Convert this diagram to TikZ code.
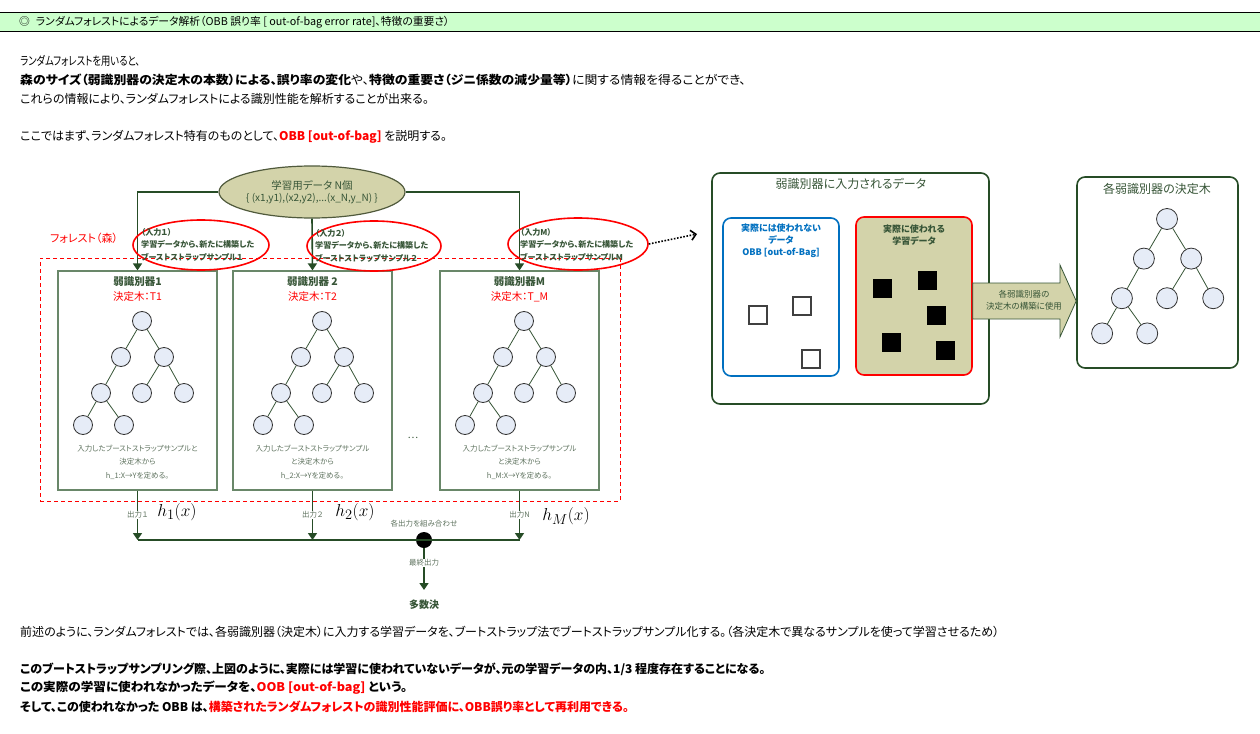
\documentclass[tikz,border=0pt]{standalone}
\usepackage[no-math]{fontspec}
\usepackage{graphicx}
\setmainfont{Noto Sans CJK JP}[RawFeature=+palt]
\usetikzlibrary{arrows.meta,shapes.geometric}
\definecolor{hdr}{RGB}{204,255,204}
\definecolor{dg}{RGB}{38,76,38}
\definecolor{bxb}{RGB}{105,135,105}
\definecolor{tg}{RGB}{55,85,55}
\definecolor{cap}{RGB}{95,115,95}
\definecolor{olive}{RGB}{211,211,170}
\definecolor{oliveb}{RGB}{80,90,60}
\definecolor{nodef}{RGB}{230,236,247}
\definecolor{rd}{RGB}{255,0,0}
\definecolor{bl}{RGB}{0,112,192}
\newcommand\fsz[2]{\fontsize{#1}{#2}\selectfont}
\newcommand\mytree[5]{%
  \begin{scope}[shift={(#2,#3)},scale=#4]
    \node[tn,minimum size=#5pt] (#1a) at (0,0) {};
    \node[tn,minimum size=#5pt] (#1b) at (-21,36) {};
    \node[tn,minimum size=#5pt] (#1c) at (22,36) {};
    \node[tn,minimum size=#5pt] (#1d) at (-41,72) {};
    \node[tn,minimum size=#5pt] (#1e) at (0,72) {};
    \node[tn,minimum size=#5pt] (#1f) at (42,72) {};
    \node[tn,minimum size=#5pt] (#1g) at (-59,104) {};
    \node[tn,minimum size=#5pt] (#1h) at (-18,104) {};
  \end{scope}
  \draw[te] (#1a) -- (#1b); \draw[te] (#1a) -- (#1c);
  \draw[te] (#1b) -- (#1d); \draw[te] (#1c) -- (#1e);
  \draw[te] (#1c) -- (#1f); \draw[te] (#1d) -- (#1g);
  \draw[te] (#1d) -- (#1h);
}
\begin{document}
\begin{tikzpicture}[x=1pt,y=-1pt,
  txt/.style={anchor=west,inner sep=0pt,font=\fsz{12}{14}},
  tn/.style={circle,draw=black!80,fill=nodef,inner sep=0pt,line width=0.8pt},
  te/.style={draw=tg,line width=0.8pt},
  flow/.style={draw=dg,line width=1.6pt},
  arr/.style={flow,-{Triangle[width=9pt,length=7pt]}},
  wbox/.style={draw=bxb,fill=white,line width=1.2pt,minimum width=159pt,minimum height=219pt,inner sep=0pt},
  redell/.style={ellipse,draw=rd,line width=1.6pt,inner sep=0pt},
  etxt/.style={anchor=west,align=left,inner sep=0pt,text=tg,font=\bfseries\fsz{8.1}{12.5}},
  btitle/.style={inner sep=0pt,text=tg,font=\bfseries\fsz{10.5}{12}},
  bsub/.style={inner sep=0pt,text=rd,font=\fsz{10.5}{12}},
  bcap/.style={inner sep=0pt,align=center,text=cap,font=\fsz{7.5}{13.5}},
  lbl/.style={inner sep=1pt,fill=white,text=cap,font=\fsz{7.5}{9}},
  hlab/.style={inner sep=0pt,font=\fsz{19}{20}},
  rbox/.style={rounded corners=8pt,line width=1.6pt,inner sep=0pt},
  wsq/.style={draw=black!75,fill=white,line width=1.1pt,minimum size=18pt,inner sep=0pt},
  bsq/.style={fill=black,minimum size=19pt,inner sep=0pt}]
\useasboundingbox (0,0) rectangle (1260,733);
% header
\fill[hdr] (0,13) rectangle (1260,32);
\draw[black,line width=1pt] (0,13) -- (1260,13);
\draw[black,line width=1pt] (0,32) -- (1260,32);
\node[txt,font=\fsz{10.8}{12}] (title) at (19,22.5) {◎\hspace{6pt}ランダムフォレストによるデータ解析（OBB 誤り率 [ out-of-bag error rate]、特徴の重要さ）};
% paragraph
\node[txt] (p1) at (20,61) {\scalebox{0.78}[1]{ランダムフォレストを用いると、}};
\node[txt] (p2) at (20,80) {\scalebox{1.07}[1]{\textbf{森のサイズ（弱識別器の決定木の本数）による、誤り率の変化}や、\textbf{特徴の重要さ（ジニ係数の減少量等）}に関する情報を得ることができ、}};
\node[txt] (p3) at (20,99) {これらの情報により、ランダムフォレストによる識別性能を解析することが出来る。};
\node[txt] (p4) at (20,137) {ここではまず、ランダムフォレスト特有のものとして、\textcolor{rd}{\textbf{OBB [out-of-bag]}} を説明する。};
% forest frame
\node[draw=rd,dash pattern=on 4pt off 3pt,line width=0.9pt,minimum width=580pt,minimum height=243pt,inner sep=0pt] (forest) at (330,379.5) {};
\node[anchor=west,inner sep=0pt,text=rd,font=\fsz{11}{12}] (forlab) at (50,238) {フォレスト（森）};
% data ellipse
\node[ellipse,draw=oliveb,fill=olive,line width=1.2pt,minimum width=186pt,minimum height=52pt,inner sep=0pt,align=center,text=tg] (data) at (312,192) {\fsz{10.5}{15}学習用データ N個\\\fsz{10}{10}\{ (x1,y1),(x2,y2),...(x\_N,y\_N) \}};
% boxes
\node[wbox] (box1) at (137.5,380.5) {};
\node[wbox] (box2) at (312.5,380.5) {};
\node[wbox] (boxM) at (519.5,380.5) {};
% connectors from data
\draw[arr] (data.west) -| (box1.north);
\draw[arr] (data.south) -- (box2.north);
\draw[arr] (data.east) -| (boxM.north);
% red ellipses
\node[redell,minimum width=136pt,minimum height=50pt] (e1) at (201,245) {};
\node[redell,minimum width=134pt,minimum height=50pt] (e2) at (374,246) {};
\node[redell,minimum width=140pt,minimum height=52pt] (eM) at (578,244) {};
\node[etxt] (t1) at (141,244.5) {（入力１）\\学習データから、新たに構築した\\ブーストストラップサンプル１};
\node[etxt] (t2) at (315,245.5) {（入力２）\\学習データから、新たに構築した\\ブーストストラップサンプル２};
\node[etxt] (tM) at (520,244.5) {（入力M）\\学習データから、新たに構築した\\ブーストストラップサンプルM};
\coordinate (dotend) at (697,234);
\draw[black,line width=1.6pt,dash pattern=on 1.6pt off 1.6pt,-{Straight Barb[length=5pt,width=10pt]}] (eM.east) -- (dotend);
% box contents
\node[btitle] (b1t) at (137.5,282) {弱識別器1};
\node[bsub] (b1s) at (137.5,297) {決定木：T1};
\node[btitle] (b2t) at (312.5,282) {弱識別器 2};
\node[bsub] (b2s) at (312.5,297) {決定木：T2};
\node[btitle] (bMt) at (519.5,282) {弱識別器M};
\node[bsub] (bMs) at (519.5,297) {決定木：T\_M};
\mytree{s}{142}{321}{1}{19}
\mytree{u}{322}{321}{1}{19}
\mytree{v}{524}{321}{1}{19}
\node[bcap] (c1) at (137.5,462) {入力したブーストストラップサンプルと\\決定木から\\h\_1:X→Yを定める。};
\node[bcap] (c2) at (312.5,462) {入力したブーストストラップサンプル\\と決定木から\\h\_2:X→Yを定める。};
\node[bcap] (cM) at (519.5,462) {入力したブーストストラップサンプル\\と決定木から\\h\_M:X→Yを定める。};
\node[inner sep=0pt,text=tg,font=\fsz{10}{12}] (dots) at (413,438) {…};
% outputs
\coordinate (o1) at (137.5,540);
\coordinate (o2) at (312.5,540);
\coordinate (oM) at (519.5,540);
\node[circle,fill=black,minimum size=16pt,inner sep=0pt] (dot) at (424,540) {};
\coordinate (fin) at (424,590);
\draw[flow] (o1) -- (oM);
\draw[arr] (box1.south) -- (o1);
\draw[arr] (box2.south) -- (o2);
\draw[arr] (boxM.south) -- (oM);
\draw[arr] (dot) -- (fin);
\node[lbl] (l1) at (137.5,515) {出力１};
\node[lbl] (l2) at (312.5,515) {出力２};
\node[lbl] (lM) at (519.5,515) {出力N};
\node[lbl] (lf) at (424,563) {最終出力};
\node[inner sep=0pt,text=cap,font=\fsz{7.5}{9}] (comb) at (424,524) {各出力を組み合わせ};
\node[inner sep=0pt,text=tg,font=\bfseries\fsz{10}{12}] (vote) at (424,605) {多数決};
\node[hlab] (h1) at (177,512) {$h_1(x)$};
\node[hlab] (h2) at (355,512) {$h_2(x)$};
\node[hlab] (hM) at (566,516) {$h_M(x)$};
% right part
\node[rbox,draw=dg,fill=white,minimum width=277pt,minimum height=231pt] (inbox) at (850.5,288.5) {};
\node[inner sep=0pt,text=tg,font=\fsz{12}{14}] (inttl) at (851,184) {弱識別器に入力されるデータ};
\node[rbox,draw=bl,fill=white,minimum width=116pt,minimum height=158pt] (oob) at (781,297) {};
\node[inner sep=0pt,align=center,text=bl,font=\bfseries\fsz{9}{12}] (oobt) at (781,241) {実際には使われない\\データ\\OBB [out-of-Bag]};
\node[wsq] (w1) at (758,315) {};
\node[wsq] (w2) at (802,306) {};
\node[wsq] (w3) at (811,359) {};
\node[rbox,draw=rd,fill=olive,minimum width=116pt,minimum height=158pt] (used) at (914,296) {};
\node[inner sep=0pt,align=center,text=tg,font=\bfseries\fsz{9}{12}] (usedt) at (914,235) {実際に使われる\\学習データ};
\node[bsq] (k1) at (882.5,288.5) {};
\node[bsq] (k2) at (927.5,280.5) {};
\node[bsq] (k3) at (936,315) {};
\node[bsq] (k4) at (891,342) {};
\node[bsq] (k5) at (945,350) {};
\node[rbox,draw=dg,fill=white,minimum width=161pt,minimum height=191pt] (tbox) at (1157.5,272.5) {};
\node[inner sep=0pt,text=tg,font=\fsz{12}{14}] (tttl) at (1157,189) {各弱識別器の決定木};
\mytree{w}{1167}{219}{1.1}{21}
\draw[draw=tg,fill=olive,line width=0.8pt] (used.east |- 0,283) -- (1060,283) -- (1060,265) -- (tbox.west |- 0,301) -- (1060,337) -- (1060,319) -- (used.east |- 0,319) -- cycle;
\node[inner sep=0pt,align=center,text=tg,font=\fsz{8.5}{12}] (arrt) at (1024,300) {各弱識別器の\\決定木の構築に使用};
% bottom text
\node[txt] (q1) at (20,632) {前述のように、ランダムフォレストでは、各弱識別器（決定木）に入力する学習データを、ブートストラップ法でブートストラップサンプル化する。（各決定木で異なるサンプルを使って学習させるため）};
\node[txt,font=\bfseries\fsz{12}{14}] (q2) at (20,669) {このブートストラップサンプリング際、上図のように、実際には学習に使われていないデータが、元の学習データの内、1/3 程度存在することになる。};
\node[txt,font=\bfseries\fsz{12}{14}] (q3) at (20,688) {\scalebox{1.05}[1]{この実際の学習に使われなかったデータを、\textcolor{rd}{OOB [out-of-bag]} という。}};
\node[txt,font=\bfseries\fsz{12}{14}] (q4) at (20,707) {そして、この使われなかった OBB は、\textcolor{rd}{構築されたランダムフォレストの識別性能評価に、OBB誤り率として再利用できる。}};
\end{tikzpicture}
\end{document}
